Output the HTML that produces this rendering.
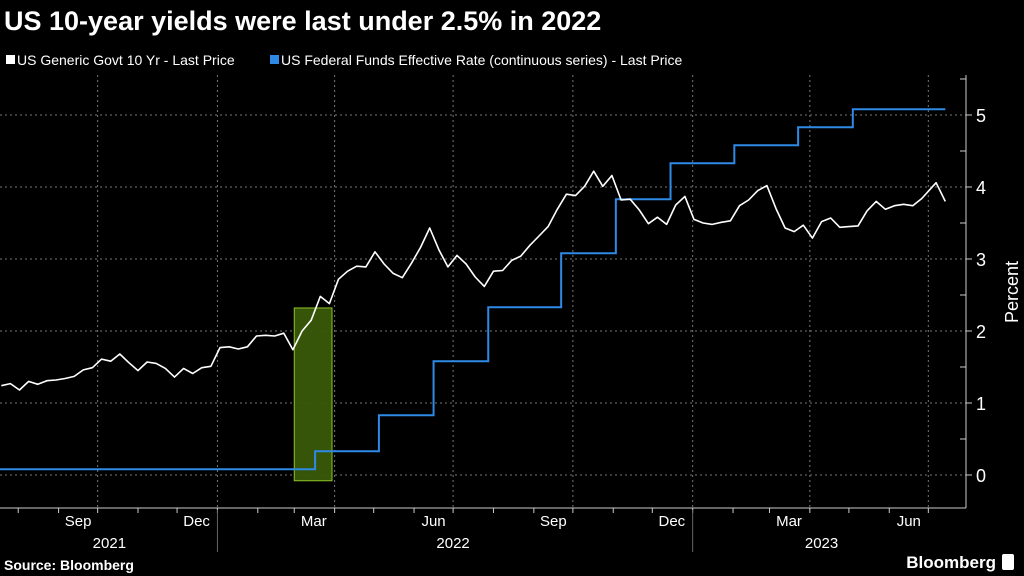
<!DOCTYPE html>
<html><head><meta charset="utf-8"><style>
html,body{margin:0;padding:0;background:#000;width:1024px;height:576px;overflow:hidden}
svg{display:block}
text{font-family:"Liberation Sans",sans-serif;fill:#fff}
</style></head><body>
<svg id="c" width="1024" height="576" xmlns="http://www.w3.org/2000/svg">
<text x="4" y="30" font-size="27" font-weight="bold">US 10-year yields were last under 2.5% in 2022</text>
<g>
<rect x="6" y="55" width="9" height="9" fill="#fff"/>
<text x="17" y="65" font-size="14">US Generic Govt 10 Yr - Last Price</text>
<rect x="270" y="55" width="9" height="9" fill="#2f8ae6"/>
<text x="281" y="65" font-size="14">US Federal Funds Effective Rate (continuous series) - Last Price</text>
</g>
<g id="grid"></g>
<g id="marks"></g>
<g id="axes"></g>
<text x="0" y="0" font-size="18" transform="translate(1018,292) rotate(-90)" text-anchor="middle">Percent</text>
<text x="4" y="570" font-size="14" font-weight="bold" font-family="Liberation Mono">Source: Bloomberg</text>
<text x="996" y="568" font-size="17" text-anchor="end" font-weight="bold">Bloomberg</text>
<rect x="1002" y="554" width="12" height="16" rx="2" fill="#fff"/>
</svg>
<script>
const yTicks=[0,1,2,3,4,5];
const monthLabels=["Sep","Dec","Mar","Jun","Sep","Dec","Mar","Jun"];
const monthLabelDates=["2021-09-16","2021-12-16","2022-03-16","2022-06-16","2022-09-16","2022-12-16","2023-03-16","2023-06-16"];
const gridDates=["2021-10-01","2022-01-01","2022-04-01","2022-07-01","2022-10-01","2023-01-01","2023-04-01","2023-07-01"];
const yearLabels=["2021","2022","2023"];
const yearLabelDates=["2021-10-10","2022-07-01","2023-04-10"];
const yearSepDates=["2022-01-01","2023-01-01"];
const highlightRange=["2022-03-01","2022-03-30"];
const highlightValues=[-0.08,2.32];
const tenYDates=["2021-07-19","2021-07-26","2021-08-02","2021-08-09","2021-08-16","2021-08-23","2021-08-30","2021-09-06","2021-09-13","2021-09-20","2021-09-27","2021-10-04","2021-10-11","2021-10-18","2021-10-25","2021-11-01","2021-11-08","2021-11-15","2021-11-22","2021-11-29","2021-12-06","2021-12-13","2021-12-20","2021-12-27",
"2022-01-03","2022-01-10","2022-01-17","2022-01-24","2022-01-31","2022-02-07","2022-02-14","2022-02-21","2022-02-28","2022-03-07","2022-03-14","2022-03-21","2022-03-28","2022-04-04","2022-04-11","2022-04-18","2022-04-25","2022-05-02","2022-05-09","2022-05-16","2022-05-23","2022-05-30","2022-06-06","2022-06-13","2022-06-20","2022-06-27","2022-07-04","2022-07-11","2022-07-18","2022-07-25","2022-08-01","2022-08-08","2022-08-15","2022-08-22","2022-08-29","2022-09-05","2022-09-12","2022-09-19","2022-09-26","2022-10-03","2022-10-10","2022-10-17","2022-10-24","2022-10-31","2022-11-07","2022-11-14","2022-11-21","2022-11-28","2022-12-05","2022-12-12","2022-12-19","2022-12-26",
"2023-01-02","2023-01-09","2023-01-16","2023-01-23","2023-01-30","2023-02-06","2023-02-13","2023-02-20","2023-02-27","2023-03-06","2023-03-13","2023-03-20","2023-03-27","2023-04-03","2023-04-10","2023-04-17","2023-04-24","2023-05-01","2023-05-08","2023-05-15","2023-05-22","2023-05-29","2023-06-05","2023-06-12","2023-06-19","2023-06-26","2023-07-07","2023-07-14"];
const tenYValues=[1.24,1.27,1.18,1.30,1.26,1.31,1.32,1.34,1.37,1.46,1.49,1.61,1.58,1.68,1.56,1.45,1.57,1.55,1.48,1.36,1.48,1.41,1.49,1.51,
1.77,1.78,1.75,1.78,1.93,1.94,1.93,1.97,1.74,2.00,2.15,2.48,2.38,2.72,2.83,2.90,2.89,3.10,2.93,2.80,2.74,2.94,3.16,3.43,3.13,2.89,3.05,2.93,2.75,2.62,2.83,2.84,2.98,3.04,3.19,3.32,3.45,3.69,3.90,3.88,4.01,4.22,4.01,4.16,3.82,3.83,3.68,3.49,3.58,3.48,3.75,3.87,
3.55,3.50,3.48,3.51,3.53,3.74,3.82,3.95,4.02,3.70,3.43,3.38,3.47,3.29,3.52,3.57,3.44,3.45,3.46,3.67,3.80,3.69,3.74,3.76,3.74,3.84,4.06,3.80];
const fedDates=["2021-07-18","2022-03-17","2022-05-05","2022-06-16","2022-07-28","2022-09-22","2022-11-03","2022-12-15","2023-02-02","2023-03-23","2023-05-04","2023-07-14"];
const fedValues=[0.08,0.33,0.83,1.58,2.33,3.08,3.83,4.33,4.58,4.83,5.08,5.08];

const NS="http://www.w3.org/2000/svg";
const t0=Date.UTC(2021,6,18), PXD=1.302;
function x(d){const p=d.split("-").map(Number);return (Date.UTC(p[0],p[1]-1,p[2])-t0)/86400000*PXD;}
function y(v){return 475-v*72;}
function mk(tag,attrs,parent){const e=document.createElementNS(NS,tag);for(const k in attrs)e.setAttribute(k,attrs[k]);parent.appendChild(e);return e;}
const grid=document.getElementById("grid"),marks=document.getElementById("marks"),axes=document.getElementById("axes");
yTicks.forEach(v=>{const l=mk("line",{x1:0,x2:966,y1:y(v),y2:y(v),stroke:"#777","stroke-dasharray":"2,3","stroke-width":1},grid);

});
gridDates.forEach(d=>{const l=mk("line",{x1:x(d),x2:x(d),y1:75,y2:508,stroke:"#777","stroke-dasharray":"2,3","stroke-width":1},grid);

});
const hr=mk("rect",{x:x(highlightRange[0]),y:y(highlightValues[1]),width:x(highlightRange[1])-x(highlightRange[0]),height:y(highlightValues[0])-y(highlightValues[1]),fill:"#3a5a08",stroke:"#8fc227","stroke-width":1,"fill-opacity":0.95},marks);


let fp="";fedDates.forEach((d,i)=>{if(i==0)fp="M"+x(d)+","+y(fedValues[i]);else fp+=" H"+x(d)+" V"+y(fedValues[i]);});
const fl=mk("path",{d:fp,fill:"none",stroke:"#2f8ae6","stroke-width":2},marks);


const tp=tenYDates.map((d,i)=>(i?"L":"M")+x(d).toFixed(1)+","+y(tenYValues[i]).toFixed(1)).join(" ");
const tl=mk("path",{d:tp,fill:"none",stroke:"#fff","stroke-width":1.6,"stroke-linejoin":"round"},marks);


const ra=mk("line",{x1:966,x2:966,y1:75,y2:508,stroke:"#ccc","stroke-width":1},axes);


const ba=mk("line",{x1:0,x2:966,y1:508,y2:508,stroke:"#ccc","stroke-width":1},axes);


yTicks.forEach(v=>{mk("line",{x1:966,x2:972,y1:y(v),y2:y(v),stroke:"#ccc"},axes);
mk("line",{x1:960,x2:966,y1:y(v+0.5),y2:y(v+0.5),stroke:"#ccc"},axes);
const t=mk("text",{x:976,y:y(v)+7,"font-size":18},axes);t.textContent=v;

});
for(let m=0;m<25;m++){const dt=new Date(Date.UTC(2021,7+m,1));const d=dt.toISOString().slice(0,10);const xx=x(d);if(xx>966)break;
mk("line",{x1:xx,x2:xx,y1:508,y2:513,stroke:"#ccc"},axes);}
monthLabels.forEach((s,i)=>{const t=mk("text",{x:x(monthLabelDates[i]),y:526,"font-size":15,"text-anchor":"middle"},axes);t.textContent=s;

});
yearLabels.forEach((s,i)=>{const t=mk("text",{x:x(yearLabelDates[i]),y:548,"font-size":15,"text-anchor":"middle"},axes);t.textContent=s;

});
yearSepDates.forEach(d=>{const l=mk("line",{x1:x(d),x2:x(d),y1:510,y2:552,stroke:"#666"},axes);

});
</script>
</body></html>
